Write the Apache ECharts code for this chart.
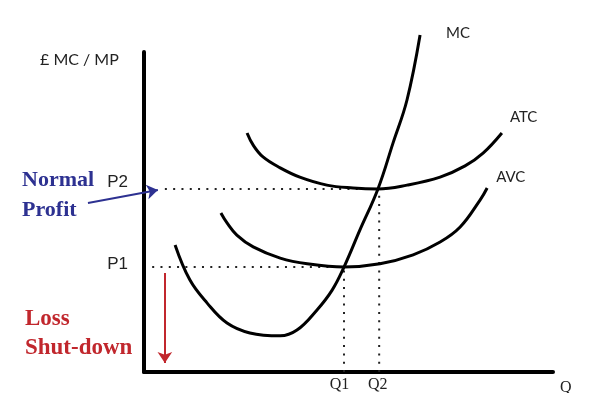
<!DOCTYPE html>
<html>
<head>
<meta charset="utf-8">
<script src="https://cdn.jsdelivr.net/npm/echarts@6/dist/echarts.min.js"></script>
<style>html,body{margin:0;padding:0;background:#fff;}#c{width:600px;height:393px;}</style>
</head>
<body>
<div id="c"></div>
<script>
// ---- data (axis units: quantity 0..100, price 0..100) ----
const mcCurve = [[7.6,39.7],[11.2,28.8],[15.4,21.6],[20.3,15.3],[25.9,12.2],[33.3,11.3],[37.4,13.1],[42.3,19.4],[46.0,25.6],[48.9,32.8],[52.8,44.4],[57.2,57.2],[60.9,71.6],[64.3,85.0],[67.5,105.3]];
const atcCurve = [[25.2,74.7],[26.7,70.9],[29.1,67.2],[33.3,63.8],[38.1,60.9],[44.7,58.4],[51.1,57.5],[57.2,57.2],[64.3,58.4],[72.4,60.9],[78.5,64.4],[82.9,68.4],[87.5,74.7]];
const avcCurve = [[18.8,49.7],[20.3,46.6],[22.7,42.8],[26.7,39.1],[33.3,35.6],[39.9,33.8],[48.9,32.8],[57.7,33.8],[65.8,36.6],[72.4,40.6],[77.3,45.3],[82.2,53.8],[83.9,57.5]];
const curveNames = ['MC', 'ATC', 'AVC'];
const qTicks = [48.9, 57.5];
const qLabels = ['Q1', 'Q2'];
const pTicks = [32.8, 57.2];
const pLabels = ['P1', 'P2'];
const guideStartX = [2.0, 5.1];          // where the P1 / P2 dotted guides begin
const normalArrow = [[-13.7, 52.8], [3.4, 56.9]];
const lossArrow = [[5.1, 30.9], [5.1, 2.8]];
const axisTitle = '£ MC / MP';
const xName = 'Q';
const noteNormal = 'Normal\nProfit';
const noteLoss = 'Loss\nShut-down';

// ---- chart ----
const chart = echarts.init(document.getElementById('c'), null, {renderer: 'canvas'});
const BLUE = '#2d3191', RED = '#c1272d';
const dotStyle = {color: '#222', width: 2, type: [2, 6.3]};

function curve(name, data, offset) {
  return {
    type: 'line', name: name, data: data, smooth: 0.4, symbol: 'none', showSymbol: false,
    clip: false, z: 5,
    lineStyle: {color: '#000', width: 3},
    endLabel: {show: true, formatter: name, offset: offset, color: '#222',
      fontFamily: 'Lato', fontSize: 15}
  };
}
function guide(a, b) {
  return {type: 'line', data: [a, b], symbol: 'none', showSymbol: false, silent: true,
    lineStyle: dotStyle, z: 2, clip: false};
}

const series = [
  curve(curveNames[0], mcCurve, [18, -2]),
  curve(curveNames[1], atcCurve, [0, -16]),
  curve(curveNames[2], avcCurve, [1, -11]),
  guide([guideStartX[0], pTicks[0]], [qTicks[0], pTicks[0]]),
  guide([guideStartX[1], pTicks[1]], [qTicks[1], pTicks[1]]),
  guide([qTicks[0], 0], [qTicks[0], pTicks[0]]),
  guide([qTicks[1], 0], [qTicks[1], pTicks[1]]),
  {
    type: 'lines', coordinateSystem: 'cartesian2d', clip: false, z: 4,
    symbol: ['none', 'arrow'], symbolSize: 11,
    lineStyle: {opacity: 1},
    data: [
      {coords: normalArrow, lineStyle: {color: BLUE, width: 2, opacity: 1}},
      {coords: lossArrow, lineStyle: {color: RED, width: 2, opacity: 1}}
    ]
  }
];

chart.setOption({
  animation: false,
  backgroundColor: '#fff',
  title: {text: axisTitle, left: 40, top: 52, padding: 0,
    textStyle: {fontFamily: 'Lato', fontSize: 16, fontWeight: 'normal', color: '#222'}},
  grid: {left: 144, right: 47, top: 52, bottom: 21, outerBoundsMode: 'none'},
  xAxis: {
    type: 'value', min: 0, max: 100,
    name: xName, nameLocation: 'end', nameGap: 7,
    nameTextStyle: {fontFamily: 'Liberation Serif', fontSize: 16, color: '#222',
      verticalAlign: 'top', align: 'left', padding: [8, 0, 0, 0]},
    axisLine: {show: true, onZero: false, lineStyle: {color: '#000', width: 4}},
    axisTick: {show: false}, splitLine: {show: false},
    axisLabel: {
      customValues: qTicks, margin: 5, color: '#222',
      fontFamily: 'Liberation Serif', fontSize: 16,
      formatter: v => '{q' + qTicks.indexOf(v) + '|' + qLabels[qTicks.indexOf(v)] + '}',
      rich: {
        q0: {fontFamily: 'Liberation Serif', fontSize: 16, color: '#222', padding: [0, 9, 0, 0]},
        q1: {fontFamily: 'Liberation Serif', fontSize: 16, color: '#222', padding: [0, 3, 0, 0]}
      }
    }
  },
  yAxis: {
    type: 'value', min: 0, max: 100,
    axisLine: {show: true, onZero: false, lineStyle: {color: '#000', width: 4}},
    axisTick: {show: false}, splitLine: {show: false},
    axisLabel: {
      customValues: pTicks, margin: 16, color: '#222',
      fontFamily: 'Liberation Sans', fontSize: 17,
      formatter: v => '{p' + pTicks.indexOf(v) + '|' + pLabels[pTicks.indexOf(v)] + '}',
      rich: {
        p0: {fontFamily: 'Liberation Sans', fontSize: 17, color: '#222', padding: [0, 0, 5, 0]},
        p1: {fontFamily: 'Liberation Sans', fontSize: 17, color: '#222', padding: [0, 0, 13, 0]}
      }
    }
  },
  graphic: [
    {type: 'text', x: 22, y: 165, z: 10,
      style: {text: noteNormal, fill: BLUE, font: 'bold 22px "Liberation Serif"',
        lineHeight: 30, verticalAlign: 'top', align: 'left'}},
    {type: 'text', x: 25, y: 305, z: 10,
      style: {text: noteLoss, fill: RED, font: 'bold 23px "Liberation Serif"',
        lineHeight: 29, verticalAlign: 'top', align: 'left'}}
  ],
  series: series
});
</script>
</body>
</html>
